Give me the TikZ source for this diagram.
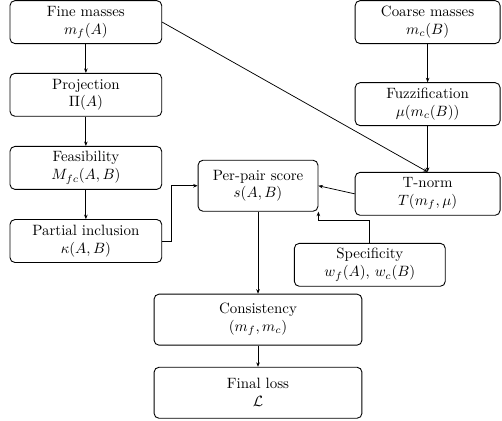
\documentclass[tikz,border=0pt]{standalone}
\usepackage{amsmath}
\usepackage{tikz}
\usetikzlibrary{arrows.meta}
\tikzset{
  stagebox/.style={draw, line width=0.6pt, rounded corners=3.3pt, align=center, minimum height=1.01cm, inner sep=2pt},
  flow/.style={line width=0.5pt, -{Stealth[length=3pt,width=2.4pt]}}
}
\begin{document}
\begin{tikzpicture}
    \useasboundingbox (0,0) rectangle (11.81,-9.90);% page frame
    % left column
    \node[stagebox, minimum width=3.57cm] (fine) at (2.02,-0.52) {Fine masses\\$m_f(A)$};
    \node[stagebox, minimum width=3.57cm] (proj) at (2.02,-2.23) {Projection\\$\Pi(A)$};
    \node[stagebox, minimum width=3.57cm] (feas) at (2.02,-3.95) {Feasibility\\$M_{fc}(A,B)$};
    \node[stagebox, minimum width=3.57cm] (pinc) at (2.02,-5.67) {Partial inclusion\\$\kappa(A,B)$};
    % right column
    \node[stagebox, minimum width=3.41cm] (coarse) at (10.06,-0.52) {Coarse masses\\$m_c(B)$};
    \node[stagebox, minimum width=3.41cm] (fuzz) at (10.06,-2.45) {Fuzzification\\$\mu(m_c(B))$};
    \node[stagebox, minimum width=3.41cm] (tnorm) at (10.06,-4.56) {T-norm\\$T(m_f,\mu)$};
    % middle
    \node[stagebox, minimum width=2.82cm, minimum height=1.2cm] (pair) at (6.07,-4.37) {Per-pair score\\$s(A,B)$};
    \node[stagebox, minimum width=3.55cm] (spec) at (8.70,-6.23) {Specificity\\$w_f(A)$, $w_c(B)$};
    \node[stagebox, minimum width=4.89cm, minimum height=1.2cm] (cons) at (6.07,-7.52) {Consistency\\$(m_f,m_c)$};
    \node[stagebox, minimum width=4.89cm, minimum height=1.2cm] (loss) at (6.07,-9.24) {Final loss\\$\mathcal{L}$};
    % connectors
    \draw[flow] (fine) -- (proj);
    \draw[flow] (proj) -- (feas);
    \draw[flow] (feas) -- (pinc);
    \draw[flow] (coarse) -- (fuzz);
    \draw[flow] (fuzz) -- (tnorm);
    \draw[flow] (fine.east) -- (tnorm.north);% fine masses feed the t-norm
    \draw[flow] (pinc.east) -- ++(0.22,0) |- (pair.west);
    \draw[flow] (tnorm.west) -- (pair.east);
    \draw[flow] (spec.north) -- ++(0,0.54) -| (pair.south east);% specificity weights
    \draw[flow] (pair) -- (cons);
    \draw[flow] (cons) -- (loss);
\end{tikzpicture}
\end{document}
